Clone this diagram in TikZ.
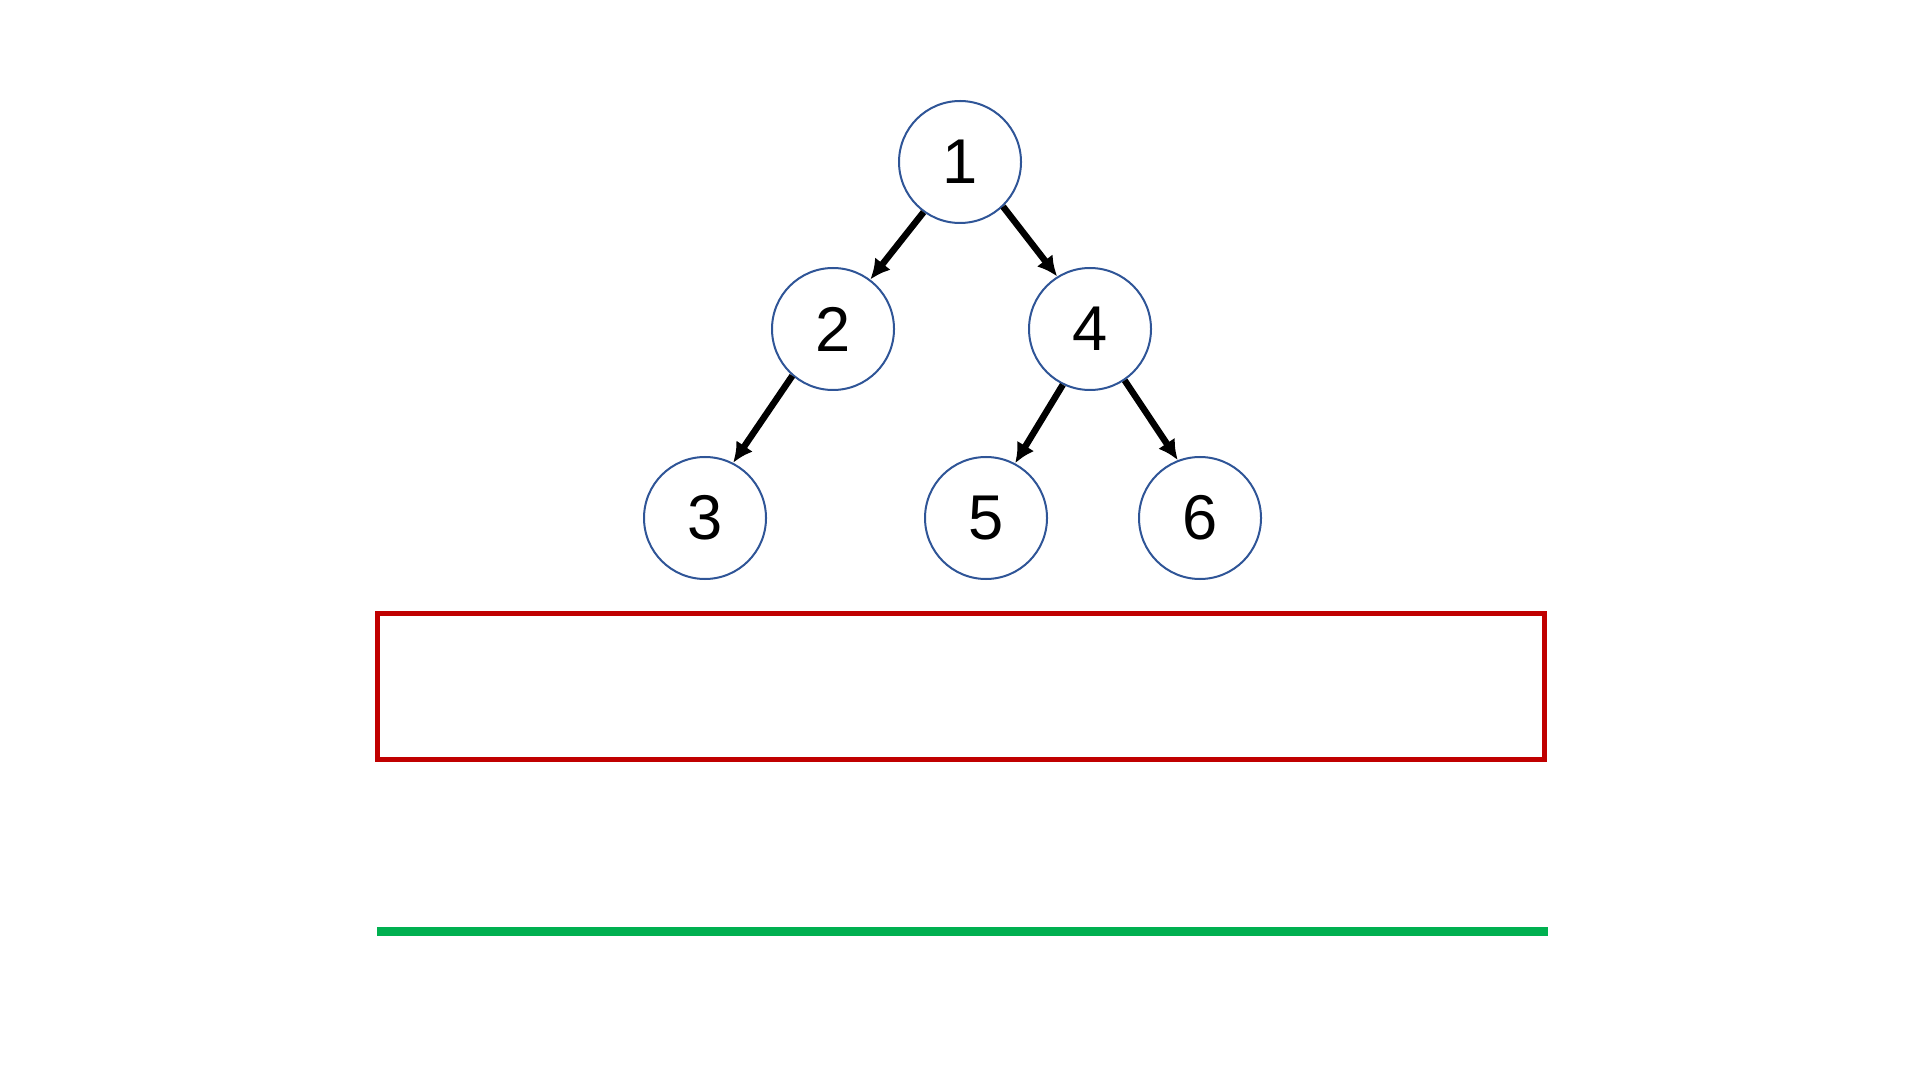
\documentclass[tikz,border=0pt]{standalone}
\usepackage{fontspec}
\setmainfont{Liberation Sans}
\usepackage{tikz}
\usetikzlibrary{arrows.meta, positioning}

\definecolor{ringblue}{HTML}{2F5597}
\definecolor{boxred}{HTML}{C00000}
\definecolor{linegreen}{HTML}{00B050}

\begin{document}
\begin{tikzpicture}[
    x=1cm, y=1cm,
    vertex/.style={circle, draw=ringblue, line width=0.02cm, minimum size=1.22cm, inner sep=0pt, font=\fontsize{18}{20}\selectfont},
    arrow/.style={line width=0.065cm, -{Latex[length=0.2cm, width=0.2cm]}},
    holder/.style={rectangle, draw=boxred, line width=0.05cm, minimum width=11.67cm, minimum height=1.46cm, inner sep=0pt}
]
\useasboundingbox (0,0) rectangle (19.2,-10.8);

% 木のノード
\node (n1) [vertex] at (9.60,-1.62) {1};
\node (n2) [vertex] at (8.33,-3.29) {2};
\node (n4) [vertex] at (10.90,-3.29) {4};
\node (n3) [vertex] at (7.05,-5.18) {3};
\node (n5) [vertex] at (9.86,-5.18) {5};
\node (n6) [vertex] at (12.00,-5.18) {6};

% 枝
\draw [arrow] (n1.234) -- (n2.53);
\draw [arrow] (n1.314) -- (n4.122);
\draw [arrow] (n2.229) -- (n3.63);
\draw [arrow] (n4.244) -- (n5.62);
\draw [arrow] (n4.304) -- (n6.111);

% 下の枠と線
\node (box) [holder] at (9.605,-6.86) {};
\coordinate (gl) at (3.77,-9.31);
\coordinate (gr) at (15.48,-9.31);
\draw [linegreen, line width=0.09cm] (gl) -- (gr);

\end{tikzpicture}
\end{document}
